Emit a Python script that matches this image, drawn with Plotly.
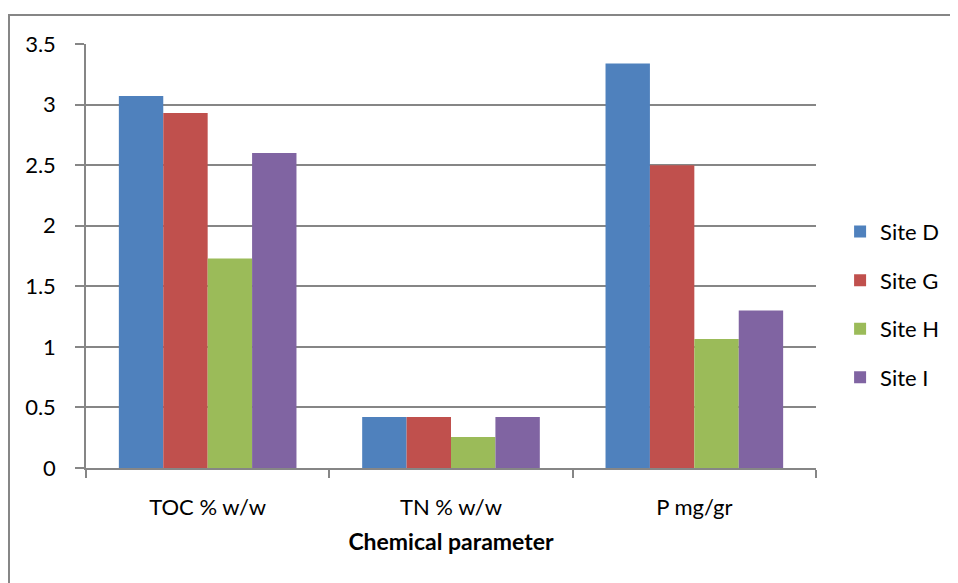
import plotly.graph_objects as go

categories = ["TOC % w/w", "TN % w/w", "P mg/gr"]
series_names = ["Site D", "Site G", "Site H", "Site I"]
site_d = [3.07, 0.42, 3.34]
site_g = [2.93, 0.42, 2.50]
site_h = [1.73, 0.255, 1.065]
site_i = [2.60, 0.42, 1.30]
colors = ["#4F81BD", "#C0504D", "#9BBB59", "#8064A2"]
y_ticks = [0, 0.5, 1, 1.5, 2, 2.5, 3, 3.5]

fig = go.Figure()
for name, vals, col in zip(series_names, [site_d, site_g, site_h, site_i], colors):
    fig.add_trace(go.Bar(name=name, x=categories, y=vals, marker_color=col,
                         marker_line_width=0, legendgroup=name))

font_family = "Lato, Liberation Sans, Arial, sans-serif"
fig.update_layout(
    width=950, height=575,
    margin=dict(l=78, r=142, t=36, b=115),
    paper_bgcolor="white", plot_bgcolor="white",
    barmode="group", bargap=0.27, bargroupgap=0,
    font=dict(family=font_family, size=22, color="black"),
    showlegend=True,
    legend=dict(x=1.033, y=0.385, xanchor="left", yanchor="middle",
                font=dict(size=22), tracegroupgap=17, traceorder="grouped",
                itemwidth=30),
    xaxis=dict(showline=True, linecolor="#868686", linewidth=1.5,
               ticks="outside", tickson="boundaries", ticklen=8,
               tickcolor="#868686", tickwidth=1.5, ticklabelstandoff=19,
               title=dict(text="<b>Chemical parameter</b>", standoff=15,
                          font=dict(size=23))),
    yaxis=dict(range=[0, 3.5], tickvals=y_ticks, ticktext=[f"{v:g}" for v in y_ticks],
               showgrid=True, gridcolor="#868686", gridwidth=1.5,
               showline=True, linecolor="#868686", linewidth=1.5,
               ticks="outside", ticklen=9, tickcolor="#868686", tickwidth=1.5,
               ticklabelstandoff=15, zeroline=False),
    shapes=[dict(type="rect", xref="paper", yref="paper",
                 x0=-0.1055, x1=1.5, y0=-0.6, y1=1.0684,
                 line=dict(color="#868686", width=2), fillcolor="rgba(0,0,0,0)",
                 layer="below")],
)

fig.write_html("out.html")
